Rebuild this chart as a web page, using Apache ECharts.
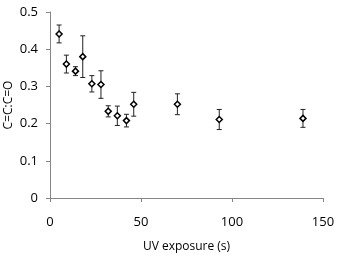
<!DOCTYPE html>
<html>
<head>
<meta charset="utf-8">
<script src="https://cdn.jsdelivr.net/npm/echarts@6/dist/echarts.min.js"></script>
<style>
html, body { margin: 0; padding: 0; background: #fff; }
#chart { width: 337px; height: 256px; }
</style>
</head>
<body>
<div id="chart"></div>
<script>
// 曝光时间 (s)
var exposure = [5, 9, 14, 18, 23, 28, 32, 37, 42, 46, 70, 93, 139];
// C=C:C=O 比值
var ratio = [0.441, 0.360, 0.341, 0.380, 0.307, 0.305, 0.233, 0.221, 0.208, 0.252, 0.252, 0.211, 0.214];
// 误差
var errors = [0.024, 0.024, 0.012, 0.056, 0.022, 0.037, 0.015, 0.026, 0.017, 0.032, 0.028, 0.027, 0.024];

var axisGray = '#868686';
var font = '"Open Sans", "Liberation Sans", sans-serif';

var points = exposure.map(function(x, i) { return [x, ratio[i]]; });
var bars = exposure.map(function(x, i) { return [x, ratio[i] - errors[i], ratio[i] + errors[i]]; });

/**
 * 绘制误差线
 */
function renderErrorBar(params, api) {
	var x = api.value(0);
	var low = api.coord([x, api.value(1)]);
	var high = api.coord([x, api.value(2)]);
	var cap = 2.5;
	var style = { stroke: '#222', lineWidth: 1 };
	return {
		type: 'group',
		children: [
			{ type: 'line', shape: { x1: low[0], y1: low[1], x2: high[0], y2: high[1] }, style: style },
			{ type: 'line', shape: { x1: low[0] - cap, y1: low[1], x2: low[0] + cap, y2: low[1] }, style: style },
			{ type: 'line', shape: { x1: high[0] - cap, y1: high[1], x2: high[0] + cap, y2: high[1] }, style: style }
		]
	};
}

var myChart = echarts.init(document.getElementById('chart'));
var option = {
	animation: false,
	backgroundColor: '#fff',
	grid: { left: 50, right: 14, top: 12, bottom: 58, containLabel: false, outerBoundsMode: 'none' },
	xAxis: {
		type: 'value',
		min: 0, max: 150, interval: 50,
		name: 'UV exposure (s)',
		nameLocation: 'middle',
		nameGap: 43,
		nameMoveOverlap: false,
		nameTextStyle: { fontFamily: font, fontSize: 12, color: '#000' },
		axisLine: { lineStyle: { color: axisGray } },
		axisTick: { show: true, length: 4, lineStyle: { color: axisGray } },
		axisLabel: { fontFamily: font, fontSize: 13, color: '#000', margin: 18 },
		splitLine: { show: false }
	},
	yAxis: {
		type: 'value',
		min: 0, max: 0.5, interval: 0.1,
		name: 'C=C:C=O',
		nameLocation: 'middle',
		nameGap: 35,
		nameMoveOverlap: false,
		nameTextStyle: { fontFamily: font, fontSize: 12, color: '#000' },
		axisLine: { show: true, lineStyle: { color: axisGray } },
		axisTick: { show: true, length: 4, lineStyle: { color: axisGray } },
		axisLabel: { fontFamily: font, fontSize: 13, color: '#000', margin: 12 },
		splitLine: { show: false }
	},
	series: [
		{
			type: 'custom',
			renderItem: renderErrorBar,
			data: bars,
			encode: { x: 0, y: [1, 2] },
			z: 2
		},
		{
			type: 'scatter',
			data: points,
			symbol: 'diamond',
			symbolSize: 6,
			itemStyle: { color: '#fff', borderColor: '#000', borderWidth: 1.5, opacity: 1 },
			z: 3
		}
	]
};
myChart.setOption(option);
</script>
</body>
</html>
